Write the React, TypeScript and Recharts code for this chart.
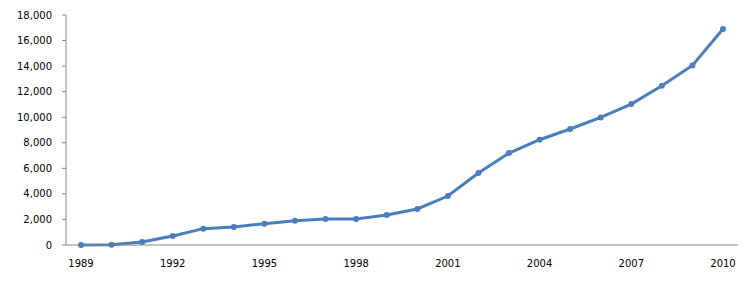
import React from "react";
import { LineChart, Line, XAxis, YAxis } from "recharts";

const years = [
  "1989", "1990", "1991", "1992", "1993", "1994", "1995", "1996", "1997", "1998", "1999",
  "2000", "2001", "2002", "2003", "2004", "2005", "2006", "2007", "2008", "2009", "2010",
];
const values = [
  0, 20, 230, 700, 1280, 1410, 1670, 1900, 2030, 2030, 2350,
  2820, 3830, 5630, 7200, 8240, 9080, 9980, 11030, 12460, 14050, 16900,
];
const yTicks = [0, 2000, 4000, 6000, 8000, 10000, 12000, 14000, 16000, 18000];

const data = years.map((year, i) => ({ year, value: values[i] }));

const fmt = (v: number) => v.toLocaleString("en-US");

export default function App() {
  const tickStyle = { fontFamily: "DejaVu Sans", fontSize: 10, fill: "#000" };
  return (
    <div style={{ position: "absolute", left: 0, top: 0, background: "#fff" }}>
      <LineChart
        width={754}
        height={290}
        data={data}
        margin={{ top: 15, right: 16, bottom: 15, left: 0 }}
      >
        <XAxis
          dataKey="year"
          height={30}
          interval={2}
          tickLine={false}
          tickSize={6}
          tickMargin={9}
          padding={{ left: 15, right: 15 }}
          axisLine={{ stroke: "#868686" }}
          tick={tickStyle}
        />
        <YAxis
          width={66}
          domain={[0, 18000]}
          ticks={yTicks}
          tickFormatter={fmt}
          tickSize={4}
          tickMargin={10}
          tickLine={{ stroke: "#868686" }}
          axisLine={{ stroke: "#868686" }}
          tick={tickStyle}
        />
        <Line
          type="linear"
          dataKey="value"
          stroke="#4a7ebb"
          strokeWidth={3}
          dot={{ r: 1.5, fill: "#4a7ebb", stroke: "#4a7ebb" }}
          isAnimationActive={false}
        />
      </LineChart>
    </div>
  );
}
